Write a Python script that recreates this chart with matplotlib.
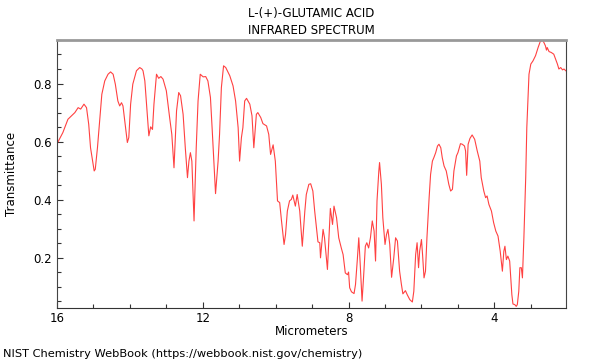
import matplotlib
matplotlib.use("Agg")
import matplotlib.pyplot as plt
from matplotlib.ticker import MultipleLocator

# wavelength in micrometers, transmittance
wavelength = [
    15.99, 15.84, 15.70, 15.51, 15.42, 15.35, 15.26, 15.19, 15.13, 15.08,
    14.98, 14.95, 14.89, 14.83, 14.77, 14.69, 14.60, 14.53, 14.46, 14.40,
    14.33, 14.28, 14.23, 14.19, 14.12, 14.07, 14.03, 13.98, 13.92, 13.82,
    13.73, 13.67, 13.64, 13.59, 13.55, 13.48, 13.43, 13.38, 13.34, 13.27,
    13.21, 13.15, 13.09, 13.00, 12.91, 12.85, 12.79, 12.72, 12.66, 12.61,
    12.54, 12.48, 12.42, 12.38, 12.34, 12.30, 12.24, 12.18, 12.13, 12.07,
    11.99, 11.92, 11.86, 11.79, 11.74, 11.65, 11.58, 11.54, 11.49, 11.43,
    11.37, 11.31, 11.26, 11.17, 11.10, 11.03, 10.99, 10.94, 10.90, 10.85,
    10.80, 10.71, 10.65, 10.60, 10.53, 10.49, 10.41, 10.35, 10.25, 10.19,
    10.14, 10.07, 10.01, 9.95, 9.89, 9.84, 9.77, 9.73, 9.68, 9.62,
    9.57, 9.53, 9.46, 9.41, 9.34, 9.27, 9.20, 9.16, 9.09, 9.04,
    8.98, 8.93, 8.88, 8.84, 8.79, 8.77, 8.70, 8.66, 8.58, 8.54,
    8.50, 8.44, 8.40, 8.33, 8.27, 8.20, 8.15, 8.09, 8.03, 8.00,
    7.97, 7.92, 7.85, 7.81, 7.76, 7.72, 7.68, 7.63, 7.59, 7.54,
    7.50, 7.45, 7.40, 7.35, 7.30, 7.26, 7.22, 7.17, 7.15, 7.10,
    7.06, 7.00, 6.96, 6.92, 6.87, 6.82, 6.76, 6.71, 6.66, 6.60,
    6.55, 6.51, 6.44, 6.39, 6.32, 6.25, 6.21, 6.16, 6.12, 6.08,
    6.05, 6.00, 5.97, 5.93, 5.89, 5.85, 5.79, 5.75, 5.70, 5.66,
    5.61, 5.56, 5.52, 5.47, 5.43, 5.38, 5.32, 5.25, 5.20, 5.15,
    5.11, 5.04, 5.00, 4.93, 4.88, 4.82, 4.79, 4.76, 4.72, 4.67,
    4.61, 4.54, 4.47, 4.40, 4.36, 4.29, 4.24, 4.20, 4.15, 4.08,
    4.02, 3.96, 3.90, 3.84, 3.78, 3.74, 3.71, 3.67, 3.63, 3.58,
    3.55, 3.52, 3.49, 3.44, 3.40, 3.37, 3.33, 3.30, 3.26, 3.23,
    3.19, 3.14, 3.11, 3.05, 3.00, 2.94, 2.87, 2.80, 2.74, 2.68,
    2.64, 2.60, 2.57, 2.55, 2.50, 2.44, 2.37, 2.32, 2.27, 2.23,
    2.18, 2.13, 2.09, 2.04,
]
transmittance = [
    0.595, 0.631, 0.677, 0.700, 0.717, 0.712, 0.729, 0.717, 0.660, 0.579,
    0.499, 0.505, 0.579, 0.671, 0.763, 0.809, 0.832, 0.840, 0.832, 0.798,
    0.740, 0.723, 0.734, 0.723, 0.648, 0.597, 0.614, 0.729, 0.798, 0.844,
    0.855, 0.850, 0.844, 0.809, 0.740, 0.620, 0.651, 0.642, 0.729, 0.832,
    0.818, 0.824, 0.815, 0.775, 0.683, 0.625, 0.510, 0.706, 0.769, 0.758,
    0.694, 0.579, 0.476, 0.533, 0.562, 0.533, 0.327, 0.579, 0.740, 0.832,
    0.823, 0.824, 0.809, 0.752, 0.637, 0.421, 0.533, 0.625, 0.786, 0.861,
    0.855, 0.840, 0.827, 0.792, 0.740, 0.648, 0.533, 0.614, 0.648, 0.740,
    0.749, 0.729, 0.689, 0.579, 0.694, 0.700, 0.683, 0.662, 0.654, 0.625,
    0.556, 0.589, 0.533, 0.396, 0.390, 0.327, 0.246, 0.280, 0.361, 0.396,
    0.401, 0.416, 0.378, 0.418, 0.361, 0.240, 0.361, 0.418, 0.453, 0.455,
    0.430, 0.361, 0.303, 0.255, 0.252, 0.200, 0.298, 0.269, 0.160, 0.269,
    0.370, 0.315, 0.378, 0.338, 0.269, 0.234, 0.211, 0.148, 0.142, 0.151,
    0.097, 0.083, 0.077, 0.108, 0.194, 0.269, 0.177, 0.051, 0.131, 0.240,
    0.252, 0.234, 0.269, 0.327, 0.292, 0.189, 0.396, 0.499, 0.528, 0.453,
    0.338, 0.246, 0.280, 0.298, 0.246, 0.133, 0.200, 0.269, 0.258, 0.154,
    0.108, 0.076, 0.087, 0.073, 0.056, 0.048, 0.085, 0.211, 0.252, 0.166,
    0.223, 0.263, 0.211, 0.131, 0.154, 0.269, 0.407, 0.487, 0.533, 0.545,
    0.562, 0.585, 0.591, 0.579, 0.545, 0.516, 0.499, 0.453, 0.430, 0.436,
    0.499, 0.551, 0.562, 0.593, 0.591, 0.585, 0.568, 0.484, 0.591, 0.611,
    0.623, 0.608, 0.568, 0.533, 0.476, 0.430, 0.407, 0.413, 0.384, 0.361,
    0.321, 0.292, 0.275, 0.223, 0.154, 0.223, 0.240, 0.194, 0.206, 0.189,
    0.131, 0.073, 0.041, 0.039, 0.033, 0.039, 0.085, 0.166, 0.166, 0.131,
    0.269, 0.476, 0.648, 0.832, 0.867, 0.878, 0.896, 0.924, 0.945, 0.949,
    0.941, 0.930, 0.915, 0.924, 0.910, 0.907, 0.901, 0.884, 0.867, 0.850,
    0.855, 0.847, 0.850, 0.844,
]

x_ticks = [16, 12, 8, 4]
y_ticks = [0.2, 0.4, 0.6, 0.8]

fig = plt.figure(figsize=(6, 3.6), dpi=100)
ax = fig.add_axes([0.095, 0.145, 0.848, 0.744])

ax.plot(wavelength, transmittance, color="#ff2020", lw=0.8, alpha=0.85)

ax.set_xlim(16, 2.04)
ax.set_ylim(0.028, 0.95)
ax.set_xticks(x_ticks)
ax.set_xticklabels([str(t) for t in x_ticks])
ax.set_yticks(y_ticks)
ax.xaxis.set_minor_locator(MultipleLocator(1))
ax.yaxis.set_minor_locator(MultipleLocator(0.05))
ax.tick_params(which="major", direction="in", length=4, width=0.8,
               labelsize=8.5, colors="#333333", labelcolor="black")
ax.tick_params(which="minor", direction="in", length=3, width=0.8,
               colors="#333333")
ax.tick_params(axis="x", pad=3)

ax.spines["top"].set_color("#999999")
ax.spines["top"].set_linewidth(2)
ax.spines["right"].set_color("#444444")
ax.spines["left"].set_color("#444444")
ax.spines["bottom"].set_color("#333333")

ax.set_xlabel("Micrometers", fontsize=8.5, labelpad=0)
ax.set_ylabel("Transmittance", fontsize=8.5, labelpad=11)
ax.set_title("L-(+)-GLUTAMIC ACID\nINFRARED SPECTRUM", fontsize=8.5,
             linespacing=1.4, pad=4)

fig.text(0.005, 0.003, "NIST Chemistry WebBook (https://webbook.nist.gov/chemistry)",
         fontsize=8.2, ha="left", va="bottom")

fig.savefig("out.png", dpi=100)
